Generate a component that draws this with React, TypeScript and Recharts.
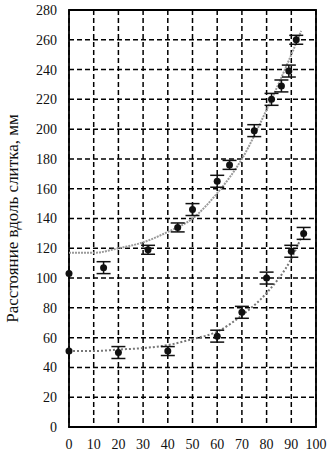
import React from 'react';
import {
  ComposedChart,
  Scatter,
  Line,
  XAxis,
  YAxis,
  CartesianGrid,
  ErrorBar,
  ReferenceArea,
  Label
} from 'recharts';

// measured points, upper ingot series
const upperX = [0, 14, 32, 44, 50, 60, 65, 75, 82, 86, 89, 92];
const upperY = [103, 107, 119, 134, 146, 165, 176, 199, 220, 229, 239, 260];
const upperErr = [0, 4, 3, 3, 4, 4, 3, 4, 4, 4, 4, 3];

// measured points, lower ingot series
const lowerX = [0, 20, 40, 60, 70, 80, 90, 95];
const lowerY = [51, 50, 51, 61, 77, 100, 118, 130];
const lowerErr = [0, 4, 3, 4, 4, 4, 4, 4];

// fitted curves
const upperFitX = [0, 10, 20, 30, 40, 50, 60, 70, 80, 90, 94];
const upperFitY = [117, 117, 120, 124, 131, 140, 157, 180, 213, 250, 266];
const lowerFitX = [0, 10, 20, 30, 40, 50, 60, 70, 80, 90, 95];
const lowerFitY = [51, 51, 52, 53, 55, 59, 64, 75, 90, 113, 131];

const xTicks = [0, 10, 20, 30, 40, 50, 60, 70, 80, 90, 100];
const yTicks = [0, 20, 40, 60, 80, 100, 120, 140, 160, 180, 200, 220, 240, 260, 280];
const yTitle = 'Расстояние вдоль слитка, мм';

const upperData = upperX.map((x, i) => ({ x, y: upperY[i], err: upperErr[i] }));
const lowerData = lowerX.map((x, i) => ({ x, y: lowerY[i], err: lowerErr[i] }));
const upperFit = upperFitX.map((x, i) => ({ x, y: upperFitY[i] }));
const lowerFit = lowerFitX.map((x, i) => ({ x, y: lowerFitY[i] }));

const font = '"Liberation Serif", "DejaVu Serif", serif';

const Dot = (props: any) => <circle cx={props.cx} cy={props.cy} r={3.5} fill='#111' />;

export default function App() {
  return (
    <div style={{ position: 'absolute', left: 0, top: 0, background: '#fff' }}>
      <ComposedChart
        width={333}
        height={453}
        margin={{ top: 10, right: 17, bottom: 0, left: 0 }}
      >
        <CartesianGrid stroke='#000' strokeDasharray='5 3' strokeWidth={1.5} />
        <XAxis
          dataKey='x'
          type='number'
          domain={[0, 100]}
          ticks={xTicks}
          interval={0}
          axisLine={false}
          tickLine={false}
          tickMargin={6}
          height={26}
          tick={{ fontSize: 14, fill: '#111', fontFamily: font }}
        />
        <YAxis
          dataKey='y'
          type='number'
          domain={[0, 280]}
          ticks={yTicks}
          interval={0}
          axisLine={false}
          tickLine={false}
          tickMargin={6}
          width={69}
          tick={{ fontSize: 14, fill: '#111', fontFamily: font }}
        >
          <Label
            value={yTitle}
            angle={-90}
            position='insideLeft'
            offset={12}
            style={{ fontSize: 17, fill: '#111', fontFamily: font, textAnchor: 'middle' }}
          />
        </YAxis>
        <ReferenceArea x1={0} x2={100} y1={0} y2={280} fill='none' stroke='#000' strokeWidth={1.8} />
        <Line
          data={upperFit}
          dataKey='y'
          type='monotone'
          stroke='#9a9a9a'
          strokeWidth={2}
          strokeDasharray='2 1'
          dot={false}
          isAnimationActive={false}
        />
        <Line
          data={lowerFit}
          dataKey='y'
          type='monotone'
          stroke='#777'
          strokeWidth={2}
          strokeDasharray='2 2'
          dot={false}
          isAnimationActive={false}
        />
        <Scatter data={upperData} dataKey='y' shape={Dot} isAnimationActive={false}>
          <ErrorBar dataKey='err' direction='y' width={7} stroke='#111' strokeWidth={1.5} />
        </Scatter>
        <Scatter data={lowerData} dataKey='y' shape={Dot} isAnimationActive={false}>
          <ErrorBar dataKey='err' direction='y' width={7} stroke='#111' strokeWidth={1.5} />
        </Scatter>
      </ComposedChart>
    </div>
  );
}
